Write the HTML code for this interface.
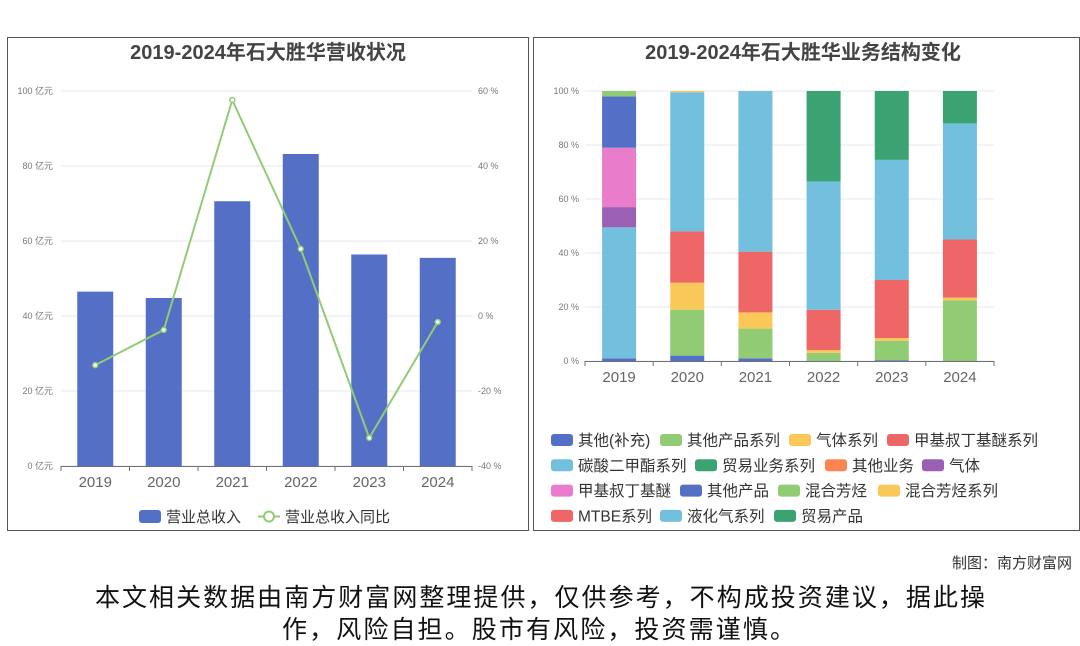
<!DOCTYPE html>
<html><head><meta charset="utf-8">
<style>
body{margin:0;width:1080px;height:646px;background:#fff;overflow:hidden;font-family:"Liberation Sans","Noto Sans CJK SC",sans-serif;}
svg{position:absolute;left:0;top:0}
</style></head><body>
<svg width="1080" height="646" xmlns="http://www.w3.org/2000/svg" font-family="Liberation Sans, Noto Sans CJK SC, sans-serif">
<rect x="7.5" y="37.5" width="521" height="493" fill="none" stroke="#555"/>
<rect x="533.5" y="37.5" width="546" height="493" fill="none" stroke="#555"/>
<text x="268" y="59" text-anchor="middle" font-size="20" font-weight="bold" fill="#444">2019-2024年石大胜华营收状况</text>
<text x="803" y="59" text-anchor="middle" font-size="20" font-weight="bold" fill="#444">2019-2024年石大胜华业务结构变化</text>
<g id="left"></g><g id="right"></g>
<text x="1072" y="568" text-anchor="end" font-size="15" fill="#333">制图：南方财富网</text>
<text x="95" y="606" font-size="25" fill="#111" textLength="890" lengthAdjust="spacing">本文相关数据由南方财富网整理提供，仅供参考，不构成投资建议，据此操</text>
<text x="282" y="638" font-size="25" fill="#111" textLength="513" lengthAdjust="spacing">作，风险自担。股市有风险，投资需谨慎。</text>
</svg>
<script>
const years=['2019','2020','2021','2022','2023','2024'];
const revenue=[46.5,44.8,70.6,83.2,56.4,55.5];
const growth=[-13.1,-3.7,57.6,17.9,-32.5,-1.6];
const leftTicks=[0,20,40,60,80,100];
const rightTicks=[-40,-20,0,20,40,60];
const seriesNames=['其他(补充)','其他产品系列','气体系列','甲基叔丁基醚系列','碳酸二甲酯系列','贸易业务系列','其他业务','气体','甲基叔丁基醚','其他产品','混合芳烃','混合芳烃系列','MTBE系列','液化气系列','贸易产品'];
const seriesColors=['#5470c6','#91cc75','#fac858','#ee6666','#73c0de','#3ba272','#fc8452','#9a60b4','#ea7ccc','#5470c6','#91cc75','#fac858','#ee6666','#73c0de','#3ba272'];
const s0=[1,2,1,0,0.3,0];
const s1=[0,17,11,3,7.2,22.5];
const s2=[0,10,6,1,1,1];
const s3=[0,19,22.5,15,21.5,21.5];
const s4=[48.5,51.5,59.5,47.5,44.5,43];
const s5=[0,0,0,33.5,25.5,12];
const s6=[0,0,0,0,0,0];
const s7=[7.5,0,0,0,0,0];
const s8=[22,0,0,0,0,0];
const s9=[19,0,0,0,0,0];
const s10=[2,0,0,0,0,0];
const s11=[0,0.5,0,0,0,0];
const s12=[0,0,0,0,0,0];
const s13=[0,0,0,0,0,0];
const s14=[0,0,0,0,0,0];
const stackSeries=[s0,s1,s2,s3,s4,s5,s6,s7,s8,s9,s10,s11,s12,s13,s14];
const NS='http://www.w3.org/2000/svg';
function mk(p,tag,a){const e=document.createElementNS(NS,tag);for(const k in a)e.setAttribute(k,a[k]);p.appendChild(e);return e;}
// left chart
const L=document.getElementById('left');
const lx0=61,lx1=472,ly0=466,ly1=91;
const lband=(lx1-lx0)/years.length;
const lxc=i=>lx0+lband*(i+0.5);
const ly=v=>ly0-(v/100)*(ly0-ly1);
const ry=v=>ly0-((v+40)/100)*(ly0-ly1);
leftTicks.forEach((t,i)=>{
 const g=mk(L,'line',{x1:lx0,x2:lx1,y1:ly(t),y2:ly(t),stroke:'#e6e9f0'});
 
 
 const tx=mk(L,'text',{x:53,y:ly(t)+3,'text-anchor':'end','font-size':9,fill:'#777'});tx.textContent=t+' 亿元';
 
 
});
rightTicks.forEach(t=>{
 const tx=mk(L,'text',{x:478,y:ry(t)+3,'font-size':9,fill:'#777'});tx.textContent=t+' %';
 
 
});
revenue.forEach((v,i)=>{
 const r=mk(L,'rect',{x:lxc(i)-18,y:ly(v),width:36,height:ly0-ly(v),fill:'#5470c6'});
 
 
});
mk(L,'line',{x1:lx0,x2:lx1,y1:ly0+0.5,y2:ly0+0.5,stroke:'#6e7079'});
for(let i=0;i<=years.length;i++)mk(L,'line',{x1:lx0+lband*i,x2:lx0+lband*i,y1:ly0,y2:ly0+5,stroke:'#6e7079'});
years.forEach((y,i)=>{const t=mk(L,'text',{x:lxc(i),y:487,'text-anchor':'middle','font-size':15,fill:'#666'});t.textContent=y;
 
 });
const pts=growth.map((v,i)=>lxc(i)+','+ry(v)).join(' ');
const pl=mk(L,'polyline',{points:pts,fill:'none',stroke:'#91cc75','stroke-width':2});


growth.forEach((v,i)=>{const c=mk(L,'circle',{cx:lxc(i),cy:ry(v),r:2.5,fill:'#fff',stroke:'#91cc75','stroke-width':1.5});
 
 });
// left legend
const lg1=mk(L,'rect',{x:139,y:510,width:22,height:13,rx:3,fill:'#5470c6'});


let t1=mk(L,'text',{x:166,y:522,'font-size':15,fill:'#333'});t1.textContent='营业总收入';
mk(L,'line',{x1:258,x2:280,y1:516.5,y2:516.5,stroke:'#91cc75','stroke-width':2});
const lg2=mk(L,'circle',{cx:269,cy:516.5,r:5,fill:'#fff',stroke:'#91cc75','stroke-width':2});


let t2=mk(L,'text',{x:285,y:522,'font-size':15,fill:'#333'});t2.textContent='营业总收入同比';
// right chart
const R=document.getElementById('right');
const rx0=585,rx1=994,rY0=361,rY1=91;
const rband=(rx1-rx0)/years.length;
const rxc=i=>rx0+rband*(i+0.5);
const py=v=>rY0-(v/100)*(rY0-rY1);
[0,20,40,60,80,100].forEach(t=>{
 const g=mk(R,'line',{x1:rx0,x2:rx1,y1:py(t),y2:py(t),stroke:'#e6e9f0'});
 
 
 const tx=mk(R,'text',{x:579,y:py(t)+3,'text-anchor':'end','font-size':9,fill:'#777'});tx.textContent=t+' %';
 
 
});
years.forEach((y,i)=>{
 let acc=0;
 stackSeries.forEach((s,k)=>{
  const v=s[i]; if(!v)return;
  const r=mk(R,'rect',{x:rxc(i)-17,y:py(acc+v),width:34,height:py(acc)-py(acc+v),fill:seriesColors[k]});
  
  
  acc+=v;
 });
 const t=mk(R,'text',{x:rxc(i),y:382,'text-anchor':'middle','font-size':15,fill:'#666'});t.textContent=y;
 
 
});
mk(R,'line',{x1:rx0,x2:rx1,y1:rY0+0.5,y2:rY0+0.5,stroke:'#6e7079'});
for(let i=0;i<=years.length;i++)mk(R,'line',{x1:rx0+rband*i,x2:rx0+rband*i,y1:rY0,y2:rY0+5,stroke:'#6e7079'});
const legX=[551,660,789,887,551,695,825,922,551,680,778,878,551,660,774];
const legRow=[0,0,0,0,1,1,1,1,2,2,2,2,3,3,3];
seriesNames.forEach((n,k)=>{
 const y=440+legRow[k]*25.3;
 const r=mk(R,'rect',{x:legX[k],y:y-6,width:22,height:12,rx:3,fill:seriesColors[k]});
 
 
 const t=mk(R,'text',{x:legX[k]+27,y:y+5.5,'font-size':15.5,fill:'#333'});t.textContent=n;
 
 
});
</script>
</body></html>
